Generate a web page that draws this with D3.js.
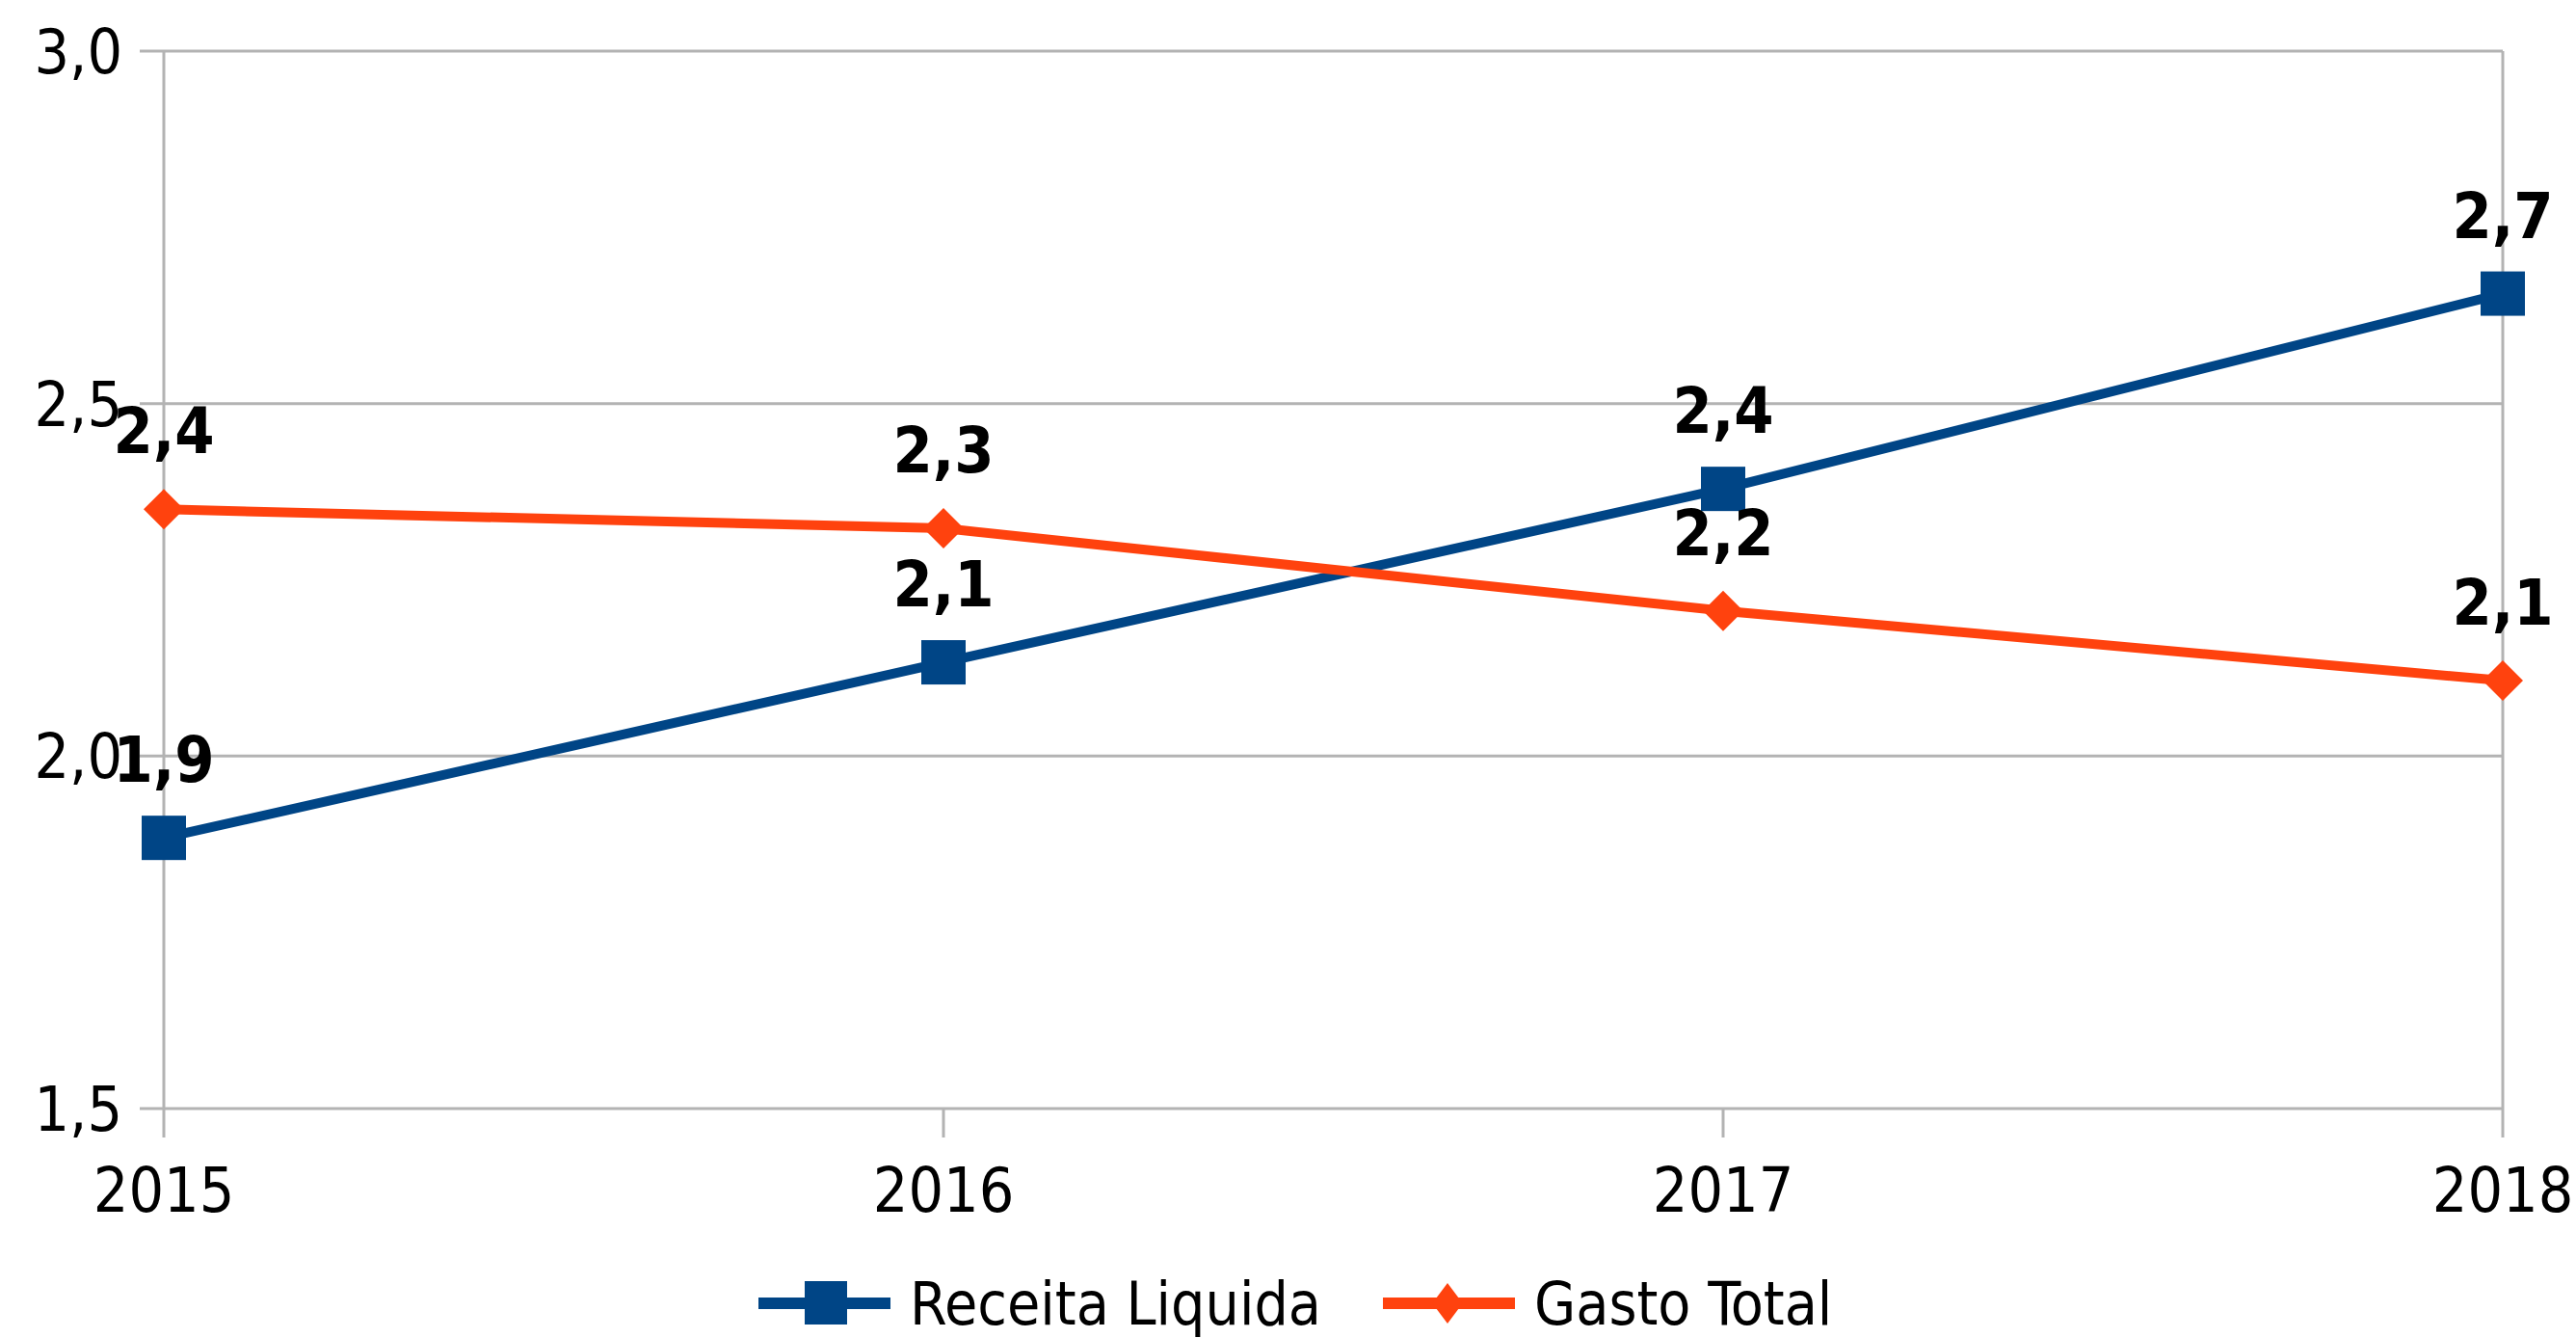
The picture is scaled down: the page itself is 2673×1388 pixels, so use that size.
<!DOCTYPE html>
<html>
<head>
<meta charset="utf-8">
<script src="https://cdn.jsdelivr.net/npm/d3@7"></script>
<style>
  body { margin: 0; background: #fff; }
  text { font-family: "DejaVu Sans Condensed", "DejaVu Sans", sans-serif; font-stretch: condensed; fill: #000; }
</style>
</head>
<body>
<div id="chart"></div>
<script>
// data
var years = ["2015", "2016", "2017", "2018"];
var receita = [1.884, 2.133, 2.379, 2.656];
var gasto = [2.350, 2.323, 2.206, 2.107];
var yTicks = [1.5, 2.0, 2.5, 3.0];
var seriesNames = ["Receita Liquida", "Gasto Total"];

var W = 2673, H = 1388;
var margin = {top: 53, right: 76, bottom: 238, left: 170},
    width = W - margin.left - margin.right,
    height = H - margin.top - margin.bottom;

var svg = d3.select("#chart").append("svg")
  .attr("width", W)
  .attr("height", H);

var g = svg.append("g").attr("transform", "translate(" + margin.left + "," + margin.top + ")");

var x = d3.scalePoint().domain(years).range([0, width]);
var y = d3.scaleLinear().domain([1.5, 3.0]).range([height, 0]);

var loc = d3.formatLocale({decimal: ",", thousands: ".", grouping: [3], currency: ["R$", ""]});
var fmt = loc.format(".1f");

var grey = "#b3b3b3";
var colors = ["#004586", "#ff420e"];

// horizontal gridlines (with outward ticks)
g.append("g").selectAll("line")
  .data(yTicks)
  .enter().append("line")
    .attr("x1", -25).attr("x2", width)
    .attr("y1", function(d) { return y(d); })
    .attr("y2", function(d) { return y(d); })
    .attr("stroke", grey).attr("stroke-width", 3);

// left axis + right border
g.append("line").attr("x1", 0).attr("x2", 0).attr("y1", 0).attr("y2", height + 30)
  .attr("stroke", grey).attr("stroke-width", 3);
g.append("line").attr("x1", width).attr("x2", width).attr("y1", 0).attr("y2", height + 30)
  .attr("stroke", grey).attr("stroke-width", 3);

// x ticks
g.append("g").selectAll("line")
  .data(years.slice(1, 3))
  .enter().append("line")
    .attr("x1", function(d) { return x(d); })
    .attr("x2", function(d) { return x(d); })
    .attr("y1", height).attr("y2", height + 30)
    .attr("stroke", grey).attr("stroke-width", 3);

// y labels
g.append("g").selectAll("text")
  .data(yTicks)
  .enter().append("text")
    .attr("x", -43)
    .attr("y", function(d) { return y(d); })
    .attr("dy", "0.36em")
    .attr("text-anchor", "end")
    .attr("font-size", 64)
    .text(function(d) { return fmt(d); });

// x labels
g.append("g").selectAll("text")
  .data(years)
  .enter().append("text")
    .attr("x", function(d) { return x(d); })
    .attr("y", height + 107)
    .attr("text-anchor", "middle")
    .attr("font-size", 64)
    .text(function(d) { return d; });

var line = d3.line()
  .x(function(d, i) { return x(years[i]); })
  .y(function(d) { return y(d); });

var diamond = function(r) { return "M0," + (-r) + "L" + r + ",0L0," + r + "L" + (-r) + ",0Z"; };

[receita, gasto].forEach(function(vals, s) {
  g.append("path")
    .datum(vals)
    .attr("d", line)
    .attr("fill", "none")
    .attr("stroke", colors[s])
    .attr("stroke-width", 10);

  var pts = g.append("g").selectAll("g")
    .data(vals)
    .enter().append("g")
      .attr("transform", function(d, i) { return "translate(" + x(years[i]) + "," + y(d) + ")"; });

  if (s == 0) {
    pts.append("rect").attr("x", -23).attr("y", -23).attr("width", 46).attr("height", 46).attr("fill", colors[s]);
  } else {
    pts.append("path").attr("d", diamond(21)).attr("fill", colors[s]);
  }
});

// data labels (drawn on top)
[receita, gasto].forEach(function(vals) {
  g.append("g").selectAll("text")
    .data(vals)
    .enter().append("text")
      .attr("x", function(d, i) { return x(years[i]); })
      .attr("y", function(d) { return y(d) - 58; })
      .attr("text-anchor", "middle")
      .attr("font-size", 66)
      .attr("font-weight", "bold")
      .text(function(d) { return fmt(d); });
});

// legend
var legend = svg.append("g").attr("transform", "translate(0,1352)");
var legX = [787, 1435];
seriesNames.forEach(function(name, s) {
  var lg = legend.append("g").attr("transform", "translate(" + legX[s] + ",0)");
  lg.append("line").attr("x1", 0).attr("x2", 137).attr("y1", 0).attr("y2", 0)
    .attr("stroke", colors[s]).attr("stroke-width", 12);
  if (s == 0) {
    lg.append("rect").attr("x", 48).attr("y", -23).attr("width", 44).attr("height", 45).attr("fill", colors[s]);
  } else {
    lg.append("path").attr("transform", "translate(67,0) scale(0.75,1)").attr("d", diamond(21)).attr("fill", colors[s]);
  }
  lg.append("text")
    .attr("x", 157)
    .attr("y", 0)
    .attr("dy", "0.36em")
    .attr("font-size", 62)
    .text(name);
});
</script>
</body>
</html>
